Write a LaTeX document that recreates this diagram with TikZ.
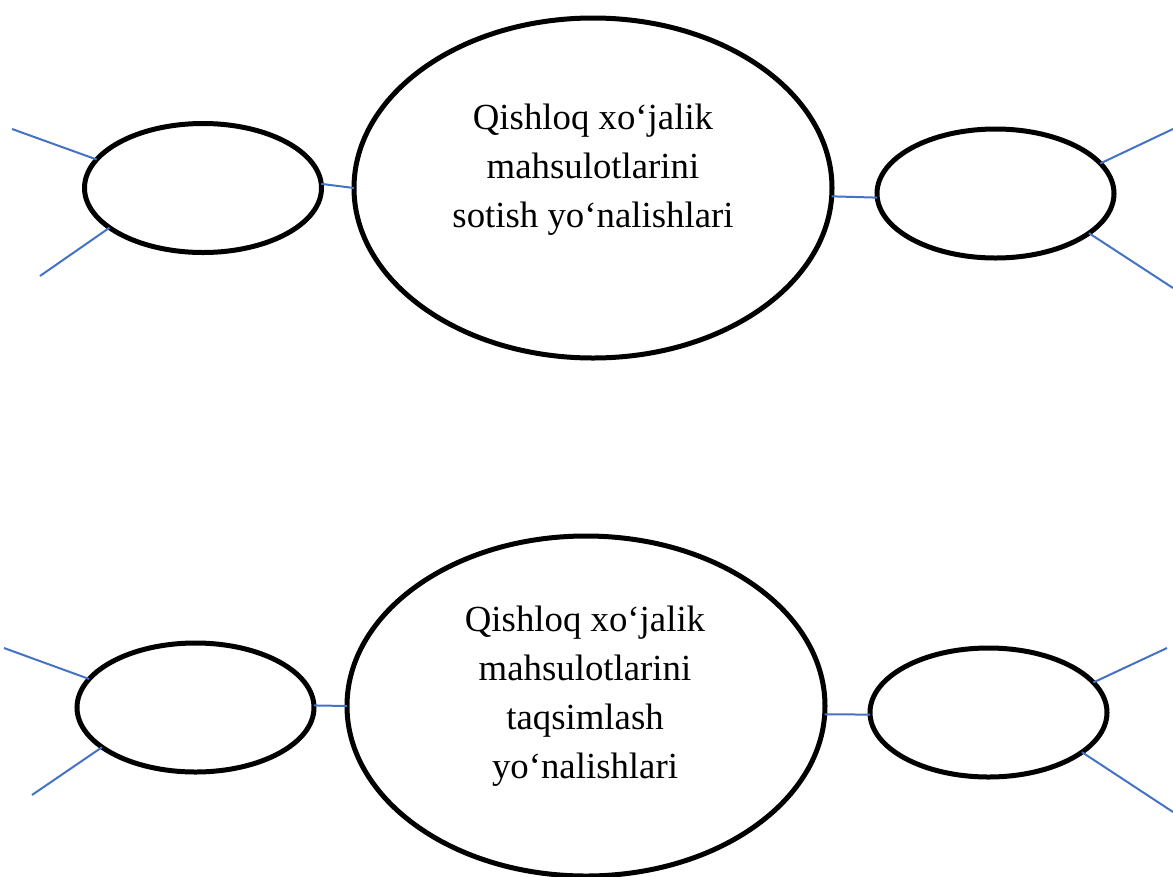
\documentclass[tikz,border=0pt]{standalone}
\usepackage{fontspec}
\setmainfont{Liberation Serif}
\usetikzlibrary{shapes.geometric}
\definecolor{linkblue}{RGB}{68,114,196}
\tikzset{
  bigell/.style={ellipse,draw=black,line width=5pt,inner sep=0pt,outer sep=0pt,minimum width=478pt,minimum height=340pt},
  smallell/.style={ellipse,draw=black,line width=5pt,inner sep=0pt,outer sep=0pt,minimum width=237pt,minimum height=129pt},
  link/.style={draw=linkblue,line width=2pt},
  label/.style={align=center,inner sep=0pt,font=\fontsize{36.8pt}{49pt}\selectfont}
}
\begin{document}
\begin{tikzpicture}[x=1pt,y=-1pt]
\useasboundingbox (0,0) rectangle (1173,876);
\clip (0,0) rectangle (1173,876);
% top row
\node[bigell] (top) at (593,188) {};
\node[smallell] (tl) at (203,188) {};
\node[smallell] (tr) at (995.5,193.5) {};
\node[label,anchor=base] (toptext) at (593,227) {Qishloq xo‘jalik\\mahsulotlarini\\sotish yo‘nalishlari};
\coordinate (tl1) at (12,129);
\coordinate (tl2) at (40,276);
\coordinate (tr1) at (1173,129);
\coordinate (tr2) at (1173,288);
\draw[link] (tl.2) -- (top.west);
\draw[link] (top.-2.4) -- (tr.182);
\draw[link] (tl1) -- (tl.165.7);
\draw[link] (tl2) -- (tl.203.6);
\draw[link] (tr.16.1) -- (tr1);
\draw[link] (tr.-23.05) -- (tr2);
% bottom row
\node[bigell] (bot) at (586,706) {};
\node[smallell] (bl) at (195.5,707.5) {};
\node[smallell] (br) at (988.5,712.5) {};
\node[label,anchor=base] (bottext) at (585,778) {Qishloq xo‘jalik\\mahsulotlarini\\taqsimlash\\yo‘nalishlari};
\coordinate (bl1) at (4,648);
\coordinate (bl2) at (32,795);
\coordinate (br1) at (1167,648);
\coordinate (br2) at (1173,812);
\draw[link] (bl.1.8) -- (bot.west);
\draw[link] (bot.-2.6) -- (br.181.7);
\draw[link] (bl1) -- (bl.165.5);
\draw[link] (bl2) -- (bl.203.2);
\draw[link] (br.16.1) -- (br1);
\draw[link] (br.-23.8) -- (br2);
\end{tikzpicture}
\end{document}
